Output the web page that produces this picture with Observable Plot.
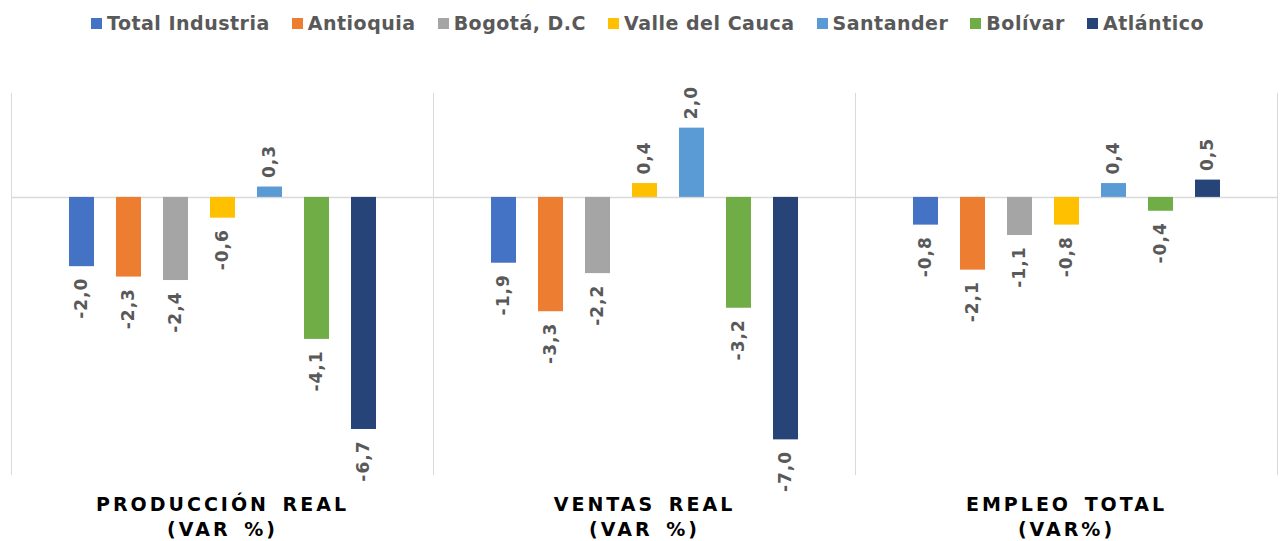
<!DOCTYPE html>
<html>
<head>
<meta charset="utf-8">
<script src="https://cdn.jsdelivr.net/npm/d3@7"></script>
<script src="https://cdn.jsdelivr.net/npm/@observablehq/plot@0.6"></script>
<style>
  body { margin: 0; background: #fff; font-family: "DejaVu Sans", sans-serif; }
  #legend { display: flex; justify-content: center; align-items: center; height: 46px; box-sizing: border-box; gap: 22px; padding-left: 11px; }
  .item { display: flex; align-items: center; gap: 5px; font-weight: bold; font-size: 19px; letter-spacing: 0.5px; color: #595959; }
  .sw { width: 11px; height: 11px; display: inline-block; }
  #chart svg g[aria-label="fx-axis tick label"] text { letter-spacing: 3px; word-spacing: 4px; }
  #chart svg g[aria-label="text"] text { letter-spacing: 1px; }
</style>
</head>
<body>
<div id="legend"></div>
<div id="chart"></div>
<script>
const panels = ["PRODUCCIÓN REAL\n(VAR %)", "VENTAS REAL\n(VAR %)", "EMPLEO TOTAL\n(VAR%)"];
const regions = ["Total Industria", "Antioquia", "Bogotá, D.C", "Valle del Cauca", "Santander", "Bolívar", "Atlántico"];
const colors = ["#4472C4", "#ED7D31", "#A5A5A5", "#FFC000", "#5B9BD5", "#70AD47", "#264478"];
const produccion = [-2.0, -2.3, -2.4, -0.6, 0.3, -4.1, -6.7];
const ventas = [-1.9, -3.3, -2.2, 0.4, 2.0, -3.2, -7.0];
const empleo = [-0.8, -2.1, -1.1, -0.8, 0.4, -0.4, 0.5];

const series = [produccion, ventas, empleo];
const data = [];
panels.forEach((p, i) => regions.forEach((r, j) => data.push({panel: p, region: r, value: series[i][j]})));
const fmt = d => d.value.toFixed(1).replace(".", ",");

const legend = document.getElementById("legend");
regions.forEach((r, i) => {
  const it = document.createElement("div");
  it.className = "item";
  const sw = document.createElement("span");
  sw.className = "sw";
  sw.style.background = colors[i];
  const t = document.createElement("span");
  t.textContent = r;
  it.appendChild(sw); it.appendChild(t);
  legend.appendChild(it);
});

const chart = Plot.plot({
  width: 1284,
  height: 495,
  marginTop: 47,
  marginBottom: 67,
  marginLeft: 10,
  marginRight: 7,
  style: {background: "#fff", fontFamily: "DejaVu Sans, sans-serif"},
  fx: {domain: panels, padding: 0, label: null},
  x: {domain: regions, paddingInner: 0.474, paddingOuter: 1.18, axis: null},
  y: {domain: [-8, 3], axis: null},
  color: {domain: regions, range: colors},
  marks: [
    Plot.frame({anchor: "left", stroke: "#d9d9d9"}),
    Plot.frame({anchor: "right", stroke: "#d9d9d9"}),
    Plot.ruleY([0], {stroke: "#d9d9d9", strokeWidth: 1.5}),
    Plot.barY(data, {fx: "panel", x: "region", y: "value", fill: "region"}),
    Plot.text(data.filter(d => d.value < 0), {fx: "panel", x: "region", y: "value", text: fmt, rotate: -90, textAnchor: "end", dy: 11, fill: "#595959", fontSize: 17, fontWeight: "bold"}),
    Plot.text(data.filter(d => d.value >= 0), {fx: "panel", x: "region", y: "value", text: fmt, rotate: -90, textAnchor: "start", dy: -9, fill: "#595959", fontSize: 17, fontWeight: "bold"}),
    Plot.axisFx({anchor: "bottom", tickSize: 0, tickPadding: 18, fontSize: 19, fontWeight: "bold", lineHeight: 1.35, fill: "#000", label: null})
  ]
});
document.getElementById("chart").appendChild(chart);
</script>
</body>
</html>
